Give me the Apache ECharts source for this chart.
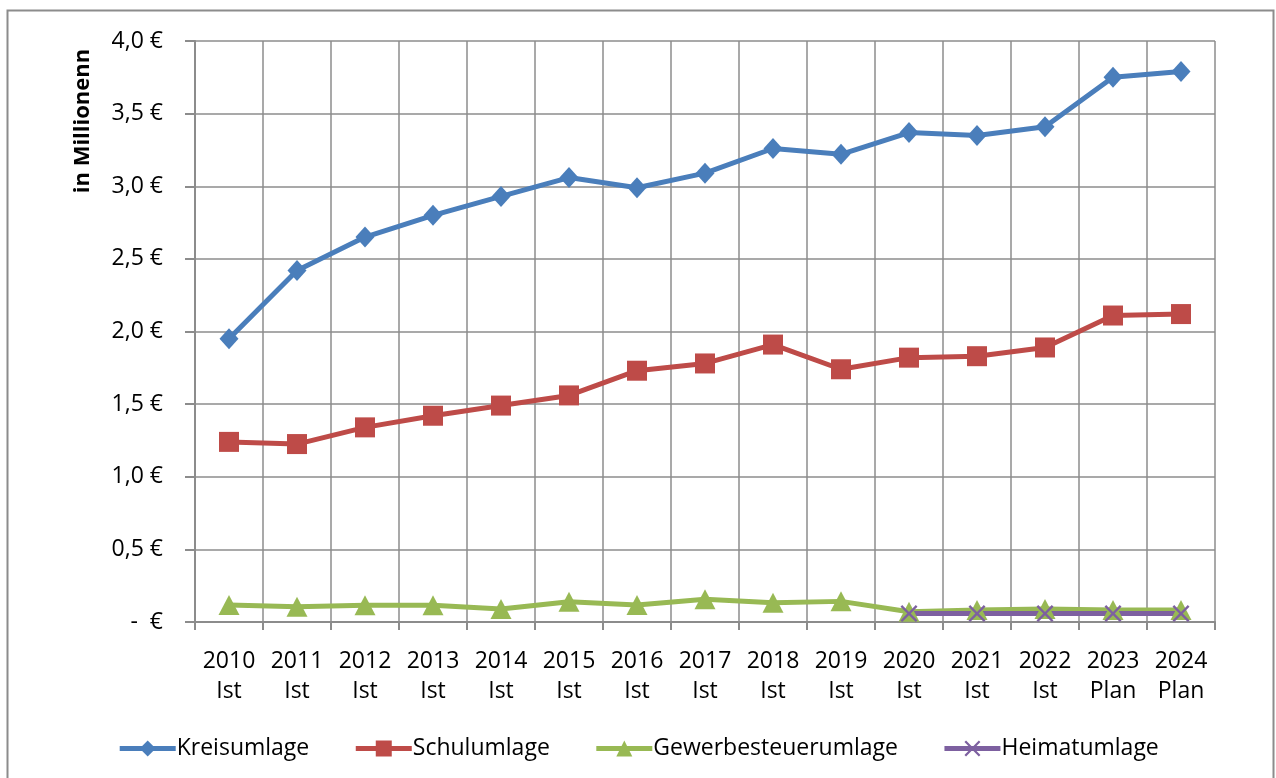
<!DOCTYPE html>
<html>
<head>
<meta charset="utf-8">
<script src="https://cdn.jsdelivr.net/npm/echarts@6/dist/echarts.min.js"></script>
<style>
  html, body { margin: 0; padding: 0; background: #fff; }
  #chart { width: 1276px; height: 778px; }
</style>
</head>
<body>
<div id="chart"></div>
<script>
// Daten (in Mio. €)
const years = ['2010', '2011', '2012', '2013', '2014', '2015', '2016', '2017', '2018', '2019', '2020', '2021', '2022', '2023', '2024']
const kinds = ['Ist', 'Ist', 'Ist', 'Ist', 'Ist', 'Ist', 'Ist', 'Ist', 'Ist', 'Ist', 'Ist', 'Ist', 'Ist', 'Plan', 'Plan']
const kreisumlage = [1.95, 2.42, 2.65, 2.80, 2.93, 3.06, 2.99, 3.09, 3.26, 3.22, 3.37, 3.35, 3.41, 3.75, 3.79]
const schulumlage = [1.24, 1.225, 1.34, 1.42, 1.49, 1.56, 1.73, 1.78, 1.91, 1.74, 1.82, 1.83, 1.89, 2.11, 2.12]
const gewerbesteuerumlage = [0.117, 0.105, 0.115, 0.115, 0.09, 0.14, 0.117, 0.156, 0.133, 0.142, 0.071, 0.083, 0.09, 0.083, 0.083]
const heimatumlage = [null, null, null, null, null, null, null, null, null, null, 0.058, 0.058, 0.058, 0.058, 0.058]
const yTicks = [0, 0.5, 1, 1.5, 2, 2.5, 3, 3.5, 4]

const categories = years.map((y, i) => y + '\n' + kinds[i])

const colors = {
  kreis: '#4A7EBB',
  schul: '#BE4B48',
  gewerbe: '#98B954',
  heimat: '#7D60A0',
  grid: '#8C8C8C',
  text: '#000000'
}

const font = "'Open Sans', 'Liberation Sans', sans-serif"
const xMark = 'path://M0,1L1,0L5,4L9,0L10,1L6,5L10,9L9,10L5,6L1,10L0,9L4,5Z'

const chart = echarts.init(document.getElementById('chart'))

const makeLine = (name, data, color, symbol, size) => ({
  name,
  type: 'line',
  data,
  symbol,
  symbolSize: size,
  showSymbol: true,
  connectNulls: false,
  lineStyle: { color, width: 5 },
  itemStyle: { color },
  emphasis: { disabled: true }
})

chart.setOption({
  animation: false,
  textStyle: { fontFamily: font, color: colors.text },
  graphic: [
    {
      type: 'rect',
      shape: { x: 7.5, y: 10.5, width: 1266, height: 800 },
      style: { fill: 'none', stroke: colors.grid, lineWidth: 2 },
      silent: true
    },
    {
      type: 'text',
      x: 83,
      y: 121,
      rotation: Math.PI / 2,
      style: {
        text: 'in Millionenn',
        font: "bold 22px 'Open Sans', 'Liberation Sans', sans-serif",
        fill: colors.text,
        align: 'center',
        verticalAlign: 'middle'
      },
      silent: true
    }
  ],
  legend: {
    bottom: 13,
    left: 'center',
    itemWidth: 56,
    itemHeight: 20,
    itemGap: 44,
    lineStyle: { width: 5 },
    textStyle: { fontSize: 23, fontFamily: font, color: colors.text, padding: [0, 0, 0, -4] },
    data: ['Kreisumlage', 'Schulumlage', 'Gewerbesteuerumlage', 'Heimatumlage']
  },
  grid: {
    left: 195,
    right: 61,
    top: 41,
    bottom: 156
  },
  xAxis: {
    type: 'category',
    data: categories,
    boundaryGap: true,
    axisLine: { show: true, lineStyle: { color: colors.grid, width: 2 } },
    axisTick: { show: true, length: 8, alignWithLabel: false, lineStyle: { color: colors.grid, width: 2 } },
    splitLine: { show: true, lineStyle: { color: colors.grid, width: 1.5 } },
    axisLabel: {
      interval: 0,
      margin: 24,
      fontSize: 23,
      lineHeight: 30,
      color: colors.text,
      fontFamily: font
    }
  },
  yAxis: {
    type: 'value',
    min: yTicks[0],
    max: yTicks[yTicks.length - 1],
    interval: 0.5,
    axisLine: { show: true, lineStyle: { color: colors.grid, width: 2 } },
    axisTick: { show: true, length: 10, lineStyle: { color: colors.grid, width: 2 } },
    splitLine: { show: true, lineStyle: { color: colors.grid, width: 1.5 } },
    axisLabel: {
      margin: 32,
      fontSize: 23,
      color: colors.text,
      fontFamily: font,
      formatter: v => (v === 0 ? '-  €' : v.toFixed(1).replace('.', ',') + ' €')
    }
  },
  series: [
    makeLine('Kreisumlage', kreisumlage, colors.kreis, 'diamond', [19, 21]),
    makeLine('Schulumlage', schulumlage, colors.schul, 'rect', 20),
    makeLine('Gewerbesteuerumlage', gewerbesteuerumlage, colors.gewerbe, 'triangle', [21, 20]),
    makeLine('Heimatumlage', heimatumlage, colors.heimat, xMark, 17)
  ]
})
</script>
</body>
</html>
